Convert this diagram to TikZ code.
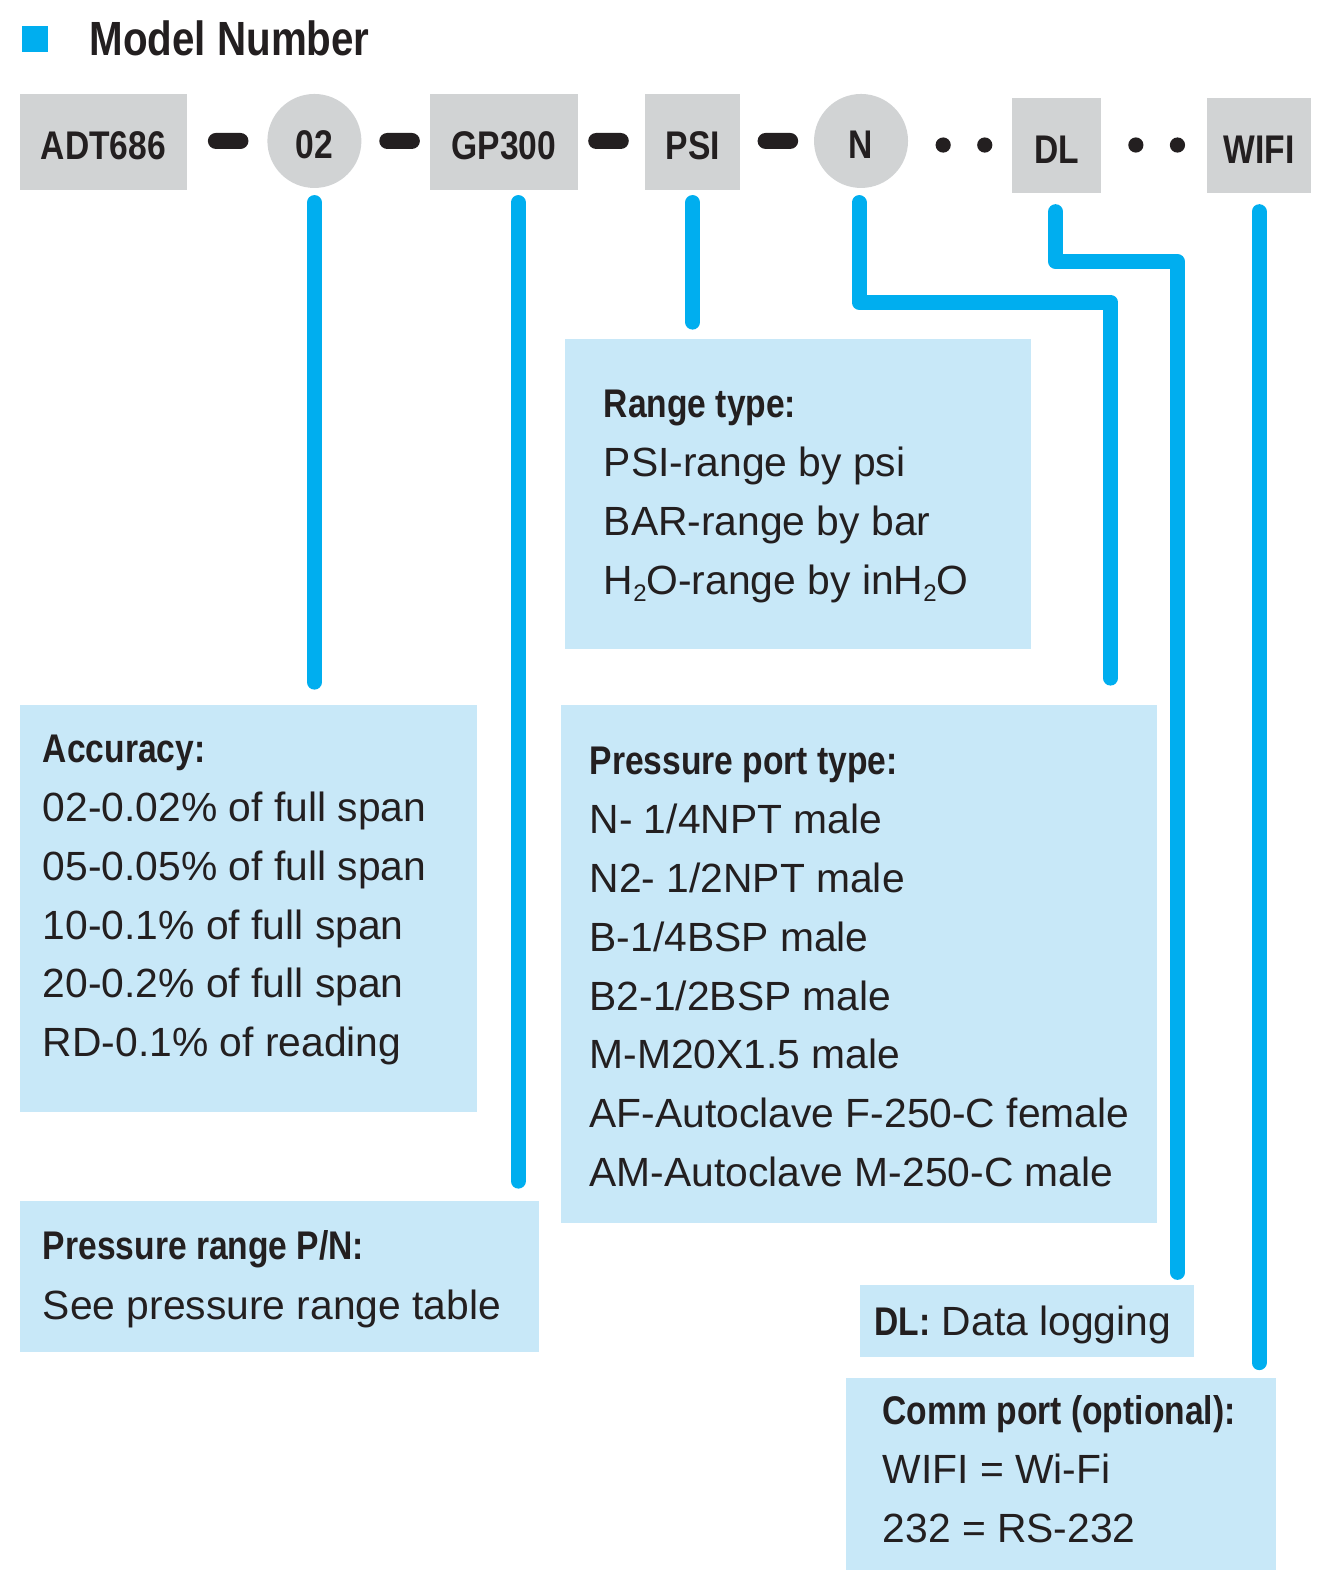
\documentclass[tikz,border=0pt]{standalone}
\usepackage{fontspec}
\setmainfont{Liberation Sans}
\newfontfamily\hdfont{Liberation Sans}[FakeStretch=0.84]
\usetikzlibrary{calc,fit}
\definecolor{cyanline}{HTML}{00AEEF}
\definecolor{panelblue}{HTML}{C8E8F8}
\definecolor{chipgray}{HTML}{D1D3D4}
\definecolor{ink}{HTML}{231F20}
\newcommand{\subtwo}{\raisebox{-0.35ex}{\fontsize{12}{12}\selectfont 2}}

\begin{document}
\begin{tikzpicture}[x=0.5071pt,y=-0.5071pt,
    chip/.style={fill=chipgray,inner sep=0,text=ink,text height=17.5pt,text depth=0pt,font=\hdfont\bfseries\fontsize{20}{24}\selectfont},
    chipbox/.style={chip,minimum height=48pt},
    chipround/.style={chip,circle,minimum size=47pt},
    panel/.style={fill=panelblue,inner sep=0},
    lead/.style={draw=cyanline,line width=7.5pt,line cap=round,line join=round},
    dashbar/.style={fill=ink,rounded corners=4pt,minimum width=20.3pt,minimum height=8pt,inner sep=0},
    dotmark/.style={fill=ink,circle,minimum size=7.6pt,inner sep=0},
    head/.style={anchor=base west,inner sep=0,text=ink,font=\hdfont\bfseries\fontsize{20}{24}\selectfont},
    txt/.style={anchor=base west,inner sep=0,text=ink,font=\fontsize{20.4}{24}\selectfont}]
    \useasboundingbox (0,0) rectangle (1310.5,1567.8);
    \fill[cyanline] (22,26) rectangle (47,51);
    \node[anchor=base west,inner sep=0,text=ink,font=\hdfont\bfseries\fontsize{24}{28}\selectfont] (title) at (88,55) {Model Number};

    \node[chipbox,minimum width=83.2pt] (adt) at (102,140) {ADT686};
    \node[chipround] (acc) at (310,139) {02};
    \node[chipbox,minimum width=74pt] (gp) at (497,140) {GP300};
    \node[chipbox,minimum width=47.7pt] (unit) at (683,140) {PSI};
    \node[chipround] (port) at (849,139) {N};
    \node[chipbox,minimum width=44.6pt,minimum height=47.5pt] (dl) at (1042,143.5) {DL};
    \node[chipbox,minimum width=52.2pt,minimum height=47.5pt] (wifi) at (1241.5,143.5) {WIFI};
    \foreach \x [count=\i] in {225,394,600,767}
        \node[dashbar] (dash\i) at (\x,139) {};
    \foreach \x [count=\i] in {930,971,1120,1161}
        \node[dotmark] (dot\i) at (\x,143) {};

    \node[panel,fit={(557,334) (1017,640)}] (rangebox) {};
    \node[panel,fit={(20,695) (470,1096)}] (accbox) {};
    \node[panel,fit={(553,695) (1141,1206)}] (portbox) {};
    \node[panel,fit={(20,1184) (531,1333)}] (pnbox) {};
    \node[panel,fit={(848,1267) (1177,1338)}] (dlnote) {};
    \node[panel,fit={(834,1359) (1258,1548)}] (commbox) {};

    \node[head] (rangehd) at (595,412) {Range type:};
    \foreach \t [count=\i] in {PSI-range by psi,BAR-range by bar,H\subtwo O-range by inH\subtwo O}
        \node[txt] (range\i) at (595,412+58*\i) {\t};
    \node[head] (acchd) at (42,752) {Accuracy:};
    \foreach \t [count=\i] in {02-0.02\% of full span,05-0.05\% of full span,10-0.1\% of full span,20-0.2\% of full span,RD-0.1\% of reading}
        \node[txt] (acc\i) at (42,752+58*\i) {\t};
    \node[head] (porthd) at (581,764) {Pressure port type:};
    \foreach \t [count=\i] in {N- 1/4NPT male,N2- 1/2NPT male,B-1/4BSP male,B2-1/2BSP male,M-M20X1.5 male,AF-Autoclave F-250-C female,AM-Autoclave M-250-C male}
        \node[txt] (port\i) at (581,764+58*\i) {\t};
    \node[head] (pnhd) at (42,1242) {Pressure range P/N:};
    \node[txt] (pn1) at (42,1301) {See pressure range table};
    \node[txt] (dltxt) at (862,1317) {{\hdfont\bfseries\fontsize{20}{24}\selectfont DL:} Data logging};
    \node[head] (commhd) at (870,1405) {Comm port (optional):};
    \foreach \t [count=\i] in {WIFI = Wi-Fi,232 = RS-232}
        \node[txt] (comm\i) at (870,1405+58*\i) {\t};

    \coordinate (nbend) at (1095,298);
    \coordinate (dlbend) at (1161,258);
    \draw[lead] ($(acc.south)+(0,14)$) -- ($(acc.south |- accbox.north)+(0,-22)$);
    \draw[lead] ($(gp.south)+(14,12)$) -- ($(gp.south |- pnbox.north)+(14,-19)$);
    \draw[lead] ($(unit.south)+(0,12)$) -- ($(unit.south |- rangebox.north)+(0,-16)$);
    \draw[lead] ($(port.south)+(-2,14)$) |- (nbend) -- ($(nbend |- portbox.north)+(0,-26)$);
    \draw[lead] ($(dl.south)+(-1,18)$) |- (dlbend) -- ($(dlbend |- dlnote.north)+(0,-12)$);
    \draw[lead] ($(wifi.south)+(0,18)$) -- ($(wifi.south |- commbox.north)+(0,-15)$);
\end{tikzpicture}
\end{document}
